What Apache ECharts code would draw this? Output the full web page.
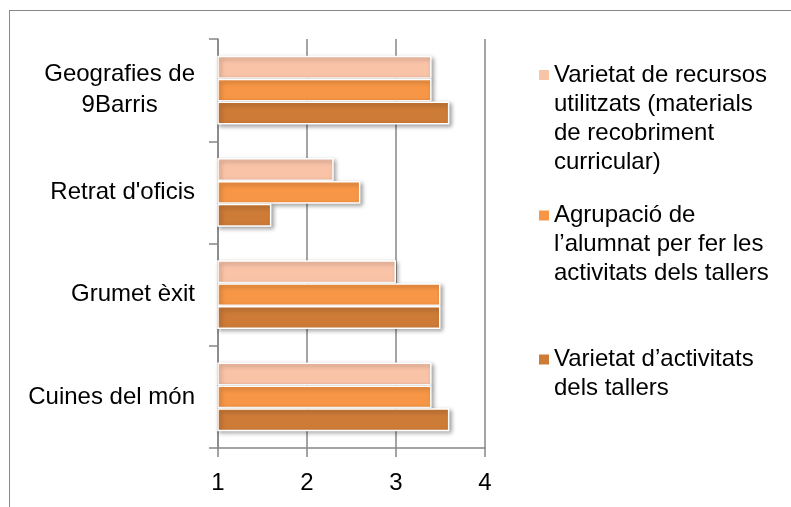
<!DOCTYPE html>
<html>
<head>
<meta charset="utf-8">
<script src="https://cdn.jsdelivr.net/npm/echarts@6/dist/echarts.min.js"></script>
<style>
html,body{margin:0;padding:0;background:#fff;overflow:hidden;}
#wrap{position:relative;width:791px;height:507px;overflow:hidden;}
#chart{position:absolute;left:0;top:0;width:791px;height:507px;}
#frame{position:absolute;left:9px;top:10px;width:900px;height:600px;border-left:1.5px solid #888;border-top:1.5px solid #888;pointer-events:none;z-index:5;}
</style>
</head>
<body>
<div id="wrap"><div id="chart"></div><div id="frame"></div></div>
<script>
// Categories (bottom to top as drawn)
var categories = ["Cuines del món", "Grumet èxit", "Retrat d'oficis", "Geografies de\n9Barris"];
// Series names
var seriesNames = [
  "Varietat de recursos utilitzats (materials de recobriment curricular)",
  "Agrupació de l’alumnat per fer les activitats dels tallers",
  "Varietat d’activitats dels tallers"
];
var legendLabels = [
  "Varietat de recursos\nutilitzats (materials\nde recobriment\ncurricular)",
  "Agrupació de\nl’alumnat per fer les\nactivitats dels tallers",
  "Varietat d’activitats\ndels tallers"
];
// Values per series, in category order
var recursos = [3.4, 3.0, 2.3, 3.4];
var agrupacio = [3.4, 3.5, 2.6, 3.4];
var activitats = [3.6, 3.5, 1.6, 3.6];
var xTicks = [1, 2, 3, 4];

var colors = ["#F9C3A8", "#F79646", "#CD7B37"];
var FONT = "Liberation Sans";
var FS = 24;

var chart = echarts.init(document.getElementById('chart'), null, {renderer: 'canvas'});

function barSeries(i, data) {
  return {
    name: seriesNames[i],
    type: 'bar',
    data: data,
    barGap: '0%',
    barCategoryGap: '33%',
    itemStyle: {
      color: colors[i],
      borderColor: '#ffffff',
      borderWidth: 1.5,
      shadowBlur: 4,
      shadowOffsetX: 2,
      shadowOffsetY: 2,
      shadowColor: 'rgba(0,0,0,0.35)'
    },
    emphasis: {disabled: true}
  };
}

var legendTops = [-26.5, 143, 316];
var legends = seriesNames.map(function (n, i) {
  var lines = legendLabels[i].split('\n').length;
  var prefix = new Array(lines).join('\n');
  return {
    data: [n],
    left: 539,
    top: legendTops[i],
    orient: 'vertical',
    padding: 0,
    icon: 'rect',
    itemWidth: 10,
    itemHeight: 10,
    itemStyle: {borderWidth: 0, shadowBlur: 0, shadowOffsetX: 0, shadowOffsetY: 0},
    selectedMode: false,
    formatter: function () { return prefix + legendLabels[i]; },
    textStyle: {
      fontFamily: FONT,
      fontSize: FS,
      color: '#000',
      lineHeight: 29
    }
  };
});

var option = {
  backgroundColor: '#fff',
  animation: false,
  grid: {left: 218, right: 306, top: 39, bottom: 59, containLabel: false},
  legend: legends,
  xAxis: {
    type: 'value',
    min: xTicks[0],
    max: xTicks[xTicks.length - 1],
    interval: 1,
    axisLine: {show: true, lineStyle: {color: '#868686', width: 1.5}},
    axisTick: {show: true, length: 9, lineStyle: {color: '#868686', width: 1.5}},
    axisLabel: {fontFamily: FONT, fontSize: FS, color: '#000', margin: 23},
    splitLine: {show: true, lineStyle: {color: '#868686', width: 1.5}}
  },
  yAxis: {
    type: 'category',
    data: categories,
    axisLine: {show: true, lineStyle: {color: '#868686', width: 1.5}},
    axisTick: {show: true, length: 9, lineStyle: {color: '#868686', width: 1.5}},
    axisLabel: {
      margin: 23,
      formatter: function (v) {
        return v.split('\n').map(function (s) { return '{a|' + s + '}'; }).join('\n');
      },
      rich: {
        a: {fontFamily: FONT, fontSize: FS, color: '#000', lineHeight: 31, align: 'center'}
      }
    }
  },
  series: [barSeries(0, recursos), barSeries(1, agrupacio), barSeries(2, activitats)]
};
chart.setOption(option);
</script>
</body>
</html>
